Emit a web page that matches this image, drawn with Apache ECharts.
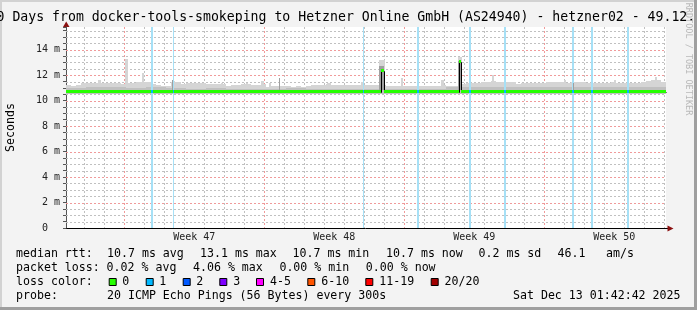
<!DOCTYPE html>
<html><head><meta charset="utf-8">
<script src="https://cdn.jsdelivr.net/npm/echarts@6/dist/echarts.min.js"></script>
<style>html,body{margin:0;padding:0;background:#f3f3f3;overflow:hidden}#c{width:697px;height:310px}</style>
</head><body><div id="c"></div>
<script>
// ================= DATA =================
const titleText = '30 Days from docker-tools-smokeping to Hetzner Online GmbH (AS24940) - hetzner02 - 49.12.';
const yAxisName = 'Seconds';
const watermark = 'RRDTOOL / TOBI OETIKER';
const xSpanDays = 30;                       // plot spans 30 days
const weekStarts = [2.915, 9.915, 16.915, 23.915]; // days from plot start (Monday 00:00)
const weekLabels = ['Week 47', 'Week 48', 'Week 49', 'Week 50'];
const yTicks = [0, 2, 4, 6, 8, 10, 12, 14];  // ms
const yMax = 15.78;
const smokeStep = 0.25;                      // days per smoke column
const smokeFloor = 10.55;                    // ms
const smokeTop = [
 11.2,11.15,11.2,11.35,11.35,11.4,11.4,11.4,11.35,11.35,
 11.35,11.3,11.35,11.35,11.45,11.5,11.5,11.3,11.2,11.15,
 11.15,11.45,11.45,11.3,11.35,11.35,11.35,11.4,11.3,11.3,
 11.3,11.3,11.15,11.25,11.25,11.3,11.3,11.2,11.2,11.3,
 11.1,11.12,11.12,11.12,11.12,11.1,11.15,11.1,11.12,11.2,
 11.2,11.25,11.3,11.2,11.2,11.25,11.25,11.2,11.2,11.25,
 11.2,11.2,11.2,11.2,11.12,11.12,11.15,11.15,11.15,11.12,
 11.15,11.15,11.12,11.15,11.15,11.2,11.15,11.12,11.15,11.3,
 11.35,11.35,11.35,11.45,11.5,11.55,11.5,11.5,11.45,11.5,
 11.3,11.35,11.35,11.35,11.35,11.35,11.45,11.45,11.5,11.45,
 11.4,11.45,11.5,11.5,11.35,11.35,11.35,11.4,11.4,11.45,
 11.4,11.4,11.35,11.35,11.35,11.5,11.55,11.6,11.65,11.45
];
const smokeInner = [ // per day, darker inner smoke top (ms)
 11.0,11.05,11.05,11.0,11.05,11.0,10.95,11.0,10.95,10.95,
 10.95,11.0,10.95,10.95,10.95,10.95,10.95,10.95,10.95,11.05,
 11.1,11.1,11.1,11.05,11.1,11.1,11.05,11.05,11.1,11.1
];
const spikeDays   = [1.65,3.03,3.85,5.375,7.775,9.025,9.8,10.175,13.125,14.825,15.78,16.8,18.825,19.69,21.35,24.95,27.45,29.5];
const spikeWidths = [0.15,0.12,0.08,0.1,0.1,0.1,0.15,0.1,0.2,0.15,0.3,0.1,0.15,0.18,0.1,0.1,0.1,0.1];
const spikeTops   = [11.6,13.3,12.15,11.55,11.4,11.4,11.55,11.4,11.4,11.5,13.2,11.75,11.6,13.4,12.0,11.6,11.65,11.85];
const darkDays   = [5.325,10.675,15.78,19.69,25.365];
const darkWidths = [0.07,0.08,0.25,0.15,0.07];
const darkTops   = [11.6,11.75,12.7,13.15,11.4];
const medianStart = [0,0.6,1.3,2.1,2.8,3.6,4.4,5.2,6.0,6.9,7.5,8.3,9.2,10.0,10.8,11.6,12.5,13.3,14.1,15.0,15.735,15.875,16.6,17.4,18.3,19.0,19.65,19.77,20.5,21.3,22.2,23.0,23.9,24.7,25.6,26.4,27.3,28.2,29.0];
const medianValue = [10.74,10.70,10.74,10.70,10.74,10.70,10.72,10.70,10.74,10.70,10.74,10.70,10.74,10.70,10.72,10.70,10.74,10.70,10.72,10.70,12.35,10.70,10.72,10.70,10.74,10.70,13.05,10.70,10.74,10.70,10.72,10.70,10.74,10.72,10.70,10.74,10.70,10.72,10.70];
const lossDays   = [4.3,5.365,14.885,17.615,20.2,21.935,25.365,26.3,28.115];
const lossWidths = [0.135,0.075,0.075,0.1,0.135,0.1,0.085,0.135,0.085];
const lossCounts = [1,1,1,1,1,1,1,1,1];
const lossColors = ['#26ff00','#00b8ff','#0059ff','#7e00ff','#ff00ff','#ff5500','#ff0000','#a10000'];
const lossLabels = ['0','1','2','3','4-5','6-10','11-19','20/20'];
const rttLabel = 'median rtt:';
const rttStats = ['10.7 ms avg','13.1 ms max','10.7 ms min','10.7 ms now','0.2 ms sd','46.1','am/s'];
const lossLabel = 'packet loss:';
const lossStats = ['0.02 % avg','4.06 % max','0.00 % min','0.00 % now'];
const lossColorLabel = 'loss color:';
const probeLabel = 'probe:';
const probeText = '20 ICMP Echo Pings (56 Bytes) every 300s';
const dateText = 'Sat Dec 13 01:42:42 2025';

// ================= LAYOUT =================
const MONO = "'DejaVu Sans Mono', monospace";
const G = {left: 66, top: 27, width: 600, height: 201};
const rttX = [107, 200, 292.5, 386, 478.5, 557.5, 606];
const lossX = [106.6, 193, 279.4, 365.8];
const boxX = [108.7, 145.7, 182.7, 219.3, 256, 307.3, 365.3, 430.7];
const boxLabelX = [122.3, 159.3, 196.3, 233.3, 270, 321.3, 379.3, 444.6];
const rowY = [254, 268, 282, 296];
const LEG_FONT = '11.6px ' + MONO;

// ================= HELPERS =================
function makeRectRender(useLossColor) {
  return function (params, api) {
    const a = api.coord([api.value(0), api.value(3)]);
    const b = api.coord([api.value(1), api.value(2)]);
    let x0 = Math.round(a[0]), x1 = Math.round(b[0]);
    if (x1 - x0 < 1) x1 = x0 + 1;
    const y0 = Math.round(a[1]), y1 = Math.round(b[1]);
    const fill = useLossColor ? lossColors[api.value(4)] : api.visual('color');
    return {type: 'rect', shape: {x: x0, y: y0, width: x1 - x0, height: Math.max(1, y1 - y0)},
            style: {fill: fill}};
  };
}
function rectSeries(data, color, z, useLossColor) {
  return {type: 'custom', data, renderItem: makeRectRender(!!useLossColor), itemStyle: {color}, z, silent: true,
          clip: true, encode: {x: [0, 1], y: [2, 3]}, animation: false};
}
function medianAt(t) {
  let v = medianValue[0];
  for (let i = 0; i < medianStart.length; i++) if (medianStart[i] <= t) v = medianValue[i];
  return v;
}

const smokeData = smokeTop.map((v, i) => [i * smokeStep, (i + 1) * smokeStep, smokeFloor, v]);
const innerData = smokeInner.map((v, i) => [i, i + 1, smokeFloor, v]);
const spikeData = spikeDays.map((d, i) => [d - spikeWidths[i] / 2, d + spikeWidths[i] / 2, smokeFloor, spikeTops[i]]);
const darkData = darkDays.map((d, i) => [d - darkWidths[i] / 2, d + darkWidths[i] / 2, smokeFloor + 0.3, darkTops[i]]);
const medEnd = medianStart.slice(1).concat([xSpanDays]);
const HALF = 0.118;
const greenData = medianValue.map((v, i) => [medianStart[i], medEnd[i], v - HALF, v + HALF]);
const blackData = medianValue.map((v, i) => [medianStart[i], medEnd[i], v, i > 0 ? medianValue[i - 1] : v]);
const lossBgData = lossDays.map((d, i) => [d - lossWidths[i] / 2, d + lossWidths[i] / 2, 0, yMax]);
const lossMedData = lossDays.map((d, i) => [d - lossWidths[i] / 2, d + lossWidths[i] / 2, medianAt(d) - HALF, medianAt(d) + HALF, lossCounts[i]]);

// grid line positions (axis styling)
const vLines = [];
for (let k = 0; k < 30; k++) {
  const d = weekStarts[0] - 2 + k;
  if (d > 0 && d < xSpanDays) vLines.push([d, weekStarts.some(s => Math.abs(s - d) < 1e-6) ? 1 : 0]);
}
const hLines = [];
for (let v = 0.5; v < yMax; v += 0.5) hLines.push([v, yTicks.includes(v) ? 1 : 0]);

const GRAY = '#c0c0c0', RED = '#f09a9a';
const vGridSeries = {
  type: 'custom', data: vLines, z: 1, silent: true, animation: false, encode: {x: 0},
  renderItem(params, api) {
    const x = Math.round(api.coord([api.value(0), 0])[0]) + 0.5;
    return {type: 'line', shape: {x1: x, y1: G.top, x2: x, y2: G.top + G.height},
            style: {stroke: api.value(1) ? RED : GRAY, lineWidth: 1, lineDash: [2, 2]}};
  }
};
const hGridSeries = {
  type: 'custom', data: hLines, z: 1, silent: true, animation: false, encode: {y: 0},
  renderItem(params, api) {
    const y = Math.round(api.coord([0, api.value(0)])[1]) + 0.5;
    return {type: 'line', shape: {x1: G.left, y1: y, x2: G.left + G.width, y2: y},
            style: {stroke: api.value(1) ? RED : GRAY, lineWidth: 1, lineDash: [2, 2]}};
  }
};
const blackSeries = {
  type: 'custom', data: blackData, z: 7, silent: true, animation: false, encode: {x: [0, 1], y: [2, 3]},
  renderItem(params, api) {
    const p0 = api.coord([api.value(0), api.value(2)]);
    const p1 = api.coord([api.value(1), api.value(2)]);
    const pp = api.coord([api.value(0), api.value(3)]);
    const x0 = Math.round(p0[0]) + 0.5, x1 = Math.round(p1[0]) + 0.5;
    const y = Math.round(p0[1]) + 0.5, yp = Math.round(pp[1]) + 0.5;
    return {type: 'polyline', shape: {points: [[x0, yp], [x0, y], [x1, y]]},
            style: {stroke: '#000', lineWidth: 1, fill: null}};
  }
};

// ================= GRAPHICS =================
function txt(x, y, text, opt) {
  opt = opt || {};
  return {type: 'text', x, y, rotation: opt.rotation || 0, silent: true,
    style: {text, font: opt.font || LEG_FONT, fill: opt.fill || '#000',
      align: opt.align || 'left', textAlign: opt.align || 'left',
      verticalAlign: 'middle', textVerticalAlign: 'middle'}};
}
const graphics = [
  {type: 'rect', shape: {x: 0, y: 0, width: 697, height: 2}, style: {fill: '#d2d2d2'}, silent: true},
  {type: 'rect', shape: {x: 0, y: 0, width: 2, height: 310}, style: {fill: '#d2d2d2'}, silent: true},
  {type: 'rect', shape: {x: 0, y: 307, width: 697, height: 3}, style: {fill: '#9f9f9f'}, silent: true},
  {type: 'rect', shape: {x: 694, y: 0, width: 3, height: 310}, style: {fill: '#9f9f9f'}, silent: true},
  txt(-11.4, 18, titleText, {font: '13.2px ' + MONO}),
  txt(10.5, 127.5, yAxisName, {rotation: Math.PI / 2, align: 'center'}),
  txt(688.5, 59, watermark, {rotation: -Math.PI / 2, align: 'center', font: '8.5px ' + MONO, fill: '#b8b8b8'}),
  {type: 'polygon', shape: {points: [[63, 27], [69.5, 27], [66.2, 21.5]]}, style: {fill: '#8b1010'}, silent: true},
  {type: 'line', shape: {x1: 63, y1: 228.5, x2: 668, y2: 228.5}, style: {stroke: '#000', lineWidth: 1}, silent: true},
  {type: 'polygon', shape: {points: [[667.5, 225.5], [667.5, 231.5], [673.5, 228.5]]}, style: {fill: '#8b1010'}, silent: true},
  txt(16, rowY[0], rttLabel),
  txt(16, rowY[1], lossLabel),
  txt(16, rowY[2], lossColorLabel),
  txt(16, rowY[3], probeLabel),
  txt(107, rowY[3], probeText),
  txt(680.5, rowY[3], dateText, {align: 'right'})
];
rttStats.forEach((s, i) => graphics.push(txt(rttX[i], rowY[0], s)));
lossStats.forEach((s, i) => graphics.push(txt(lossX[i], rowY[1], s)));
lossLabels.forEach((s, i) => {
  graphics.push({type: 'rect', shape: {x: boxX[i] + 0.5, y: 278.5, width: 7, height: 7},
    style: {fill: lossColors[i], stroke: '#000', lineWidth: 1}, silent: true});
  graphics.push(txt(boxLabelX[i], rowY[2], s));
});

// ================= CHART =================
const chart = echarts.init(document.getElementById('c'), null, {renderer: 'canvas', width: 697, height: 310});
chart.setOption({
  animation: false,
  backgroundColor: '#f3f3f3',
  grid: {left: G.left, top: G.top, width: G.width, height: G.height, show: true,
         backgroundColor: '#ffffff', borderWidth: 0, containLabel: false},
  xAxis: {
    type: 'value', min: 0, max: xSpanDays,
    axisLine: {show: false},
    axisTick: {show: false},
    splitLine: {show: false},
    axisLabel: {
      customValues: weekStarts.map(s => s + 3.5),
      formatter: v => { const i = weekStarts.findIndex(s => Math.abs(s + 3.5 - v) < 0.01); return i >= 0 ? weekLabels[i] : ''; },
      fontFamily: MONO, fontSize: 10, color: '#222', margin: 4
    }
  },
  yAxis: {
    type: 'value', min: 0, max: yMax, interval: 0.5,
    axisLine: {show: true, lineStyle: {color: '#555', width: 1}},
    axisTick: {show: true, length: 3, lineStyle: {color: '#555'}},
    splitLine: {show: false},
    axisLabel: {
      formatter: v => { const r = Math.round(v * 100) / 100; return yTicks.includes(r) ? (r === 0 ? '0  ' : r + ' m') : ''; },
      fontFamily: MONO, fontSize: 10, color: '#222', margin: 6
    }
  },
  graphic: {elements: graphics},
  series: [
    vGridSeries,
    hGridSeries,
    rectSeries(smokeData, '#d5d5d5', 2),
    rectSeries(spikeData, '#d5d5d5', 3),
    rectSeries(innerData, '#c0c0c0', 3),
    rectSeries(lossBgData, '#a6e0f6', 4),
    rectSeries(darkData, '#9f9f9f', 5),
    blackSeries,
    rectSeries(greenData, lossColors[0], 8),
    rectSeries(lossMedData, lossColors[1], 9, true)
  ]
});
</script>
</body></html>
